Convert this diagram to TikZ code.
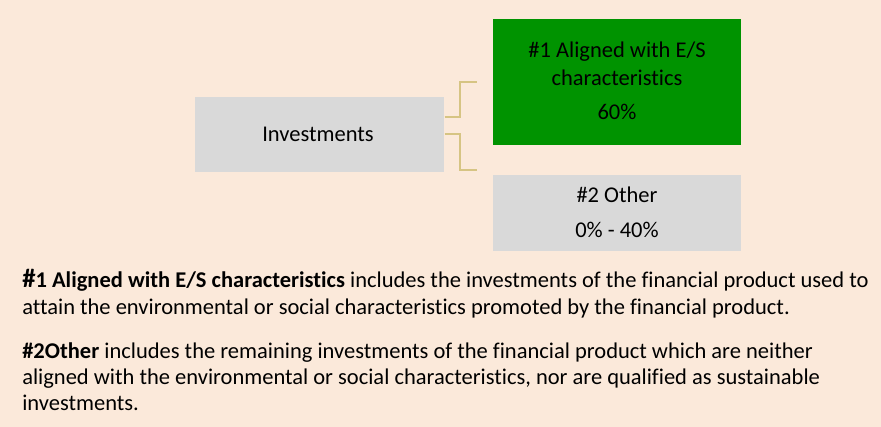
\documentclass[tikz,border=0pt]{standalone}
\usepackage{fontspec}
\setmainfont{Carlito}[Ligatures=NoCommon]
\definecolor{bgpeach}{HTML}{FBE9DA}
\definecolor{boxgray}{HTML}{D9D9D9}
\definecolor{boxgreen}{HTML}{009300}
\definecolor{linkcol}{HTML}{D6C483}
\begin{document}
\begin{tikzpicture}[x=0.025cm,y=-0.025cm,
  box/.style={draw=none,inner sep=0pt,anchor=north west},
  boxtext/.style={font=\fontsize{16}{19}\selectfont,text=black,inner sep=0pt},
  link/.style={draw=linkcol,line width=1.4pt},
  para/.style={font=\fontsize{16}{19.2}\selectfont,text=black,inner sep=0pt,anchor=base west}]
\fill[bgpeach] (0,0) rectangle (881,427);
\useasboundingbox (0,0) rectangle (881,427);
% boxes
\node[box,fill=boxgray,minimum width=249*0.025cm,minimum height=75*0.025cm] (inv) at (195,97) {};
\node[box,fill=boxgreen,minimum width=248*0.025cm,minimum height=126*0.025cm] (al) at (493,19) {};
\node[box,fill=boxgray,minimum width=248*0.025cm,minimum height=76*0.025cm] (oth) at (493,175) {};
% texts
\node[boxtext] (tinv) at (318,134) {Investments};
\node[boxtext] (tal1) at (617,52) {\#1 Aligned with E/S};
\node[boxtext] (tal2) at (617,78) {characteristics};
\node[boxtext] (tal3) at (617,112) {60\%};
\node[boxtext] (tot1) at (617,195) {\#2 Other};
\node[boxtext] (tot2) at (617,230) {0\% - 40\%};
% connectors
\coordinate (u0) at (inv.east |- 0,117);
\coordinate (u1) at (460,117);
\coordinate (u2) at (460,82);
\coordinate (u3) at (477,82);
\coordinate (d0) at (inv.east |- 0,134);
\coordinate (d1) at (460,134);
\coordinate (d2) at (460,170);
\coordinate (d3) at (477,170);
\draw[link] (u0) -- (u1) -- (u2) -- (u3);
\draw[link] (d0) -- (d1) -- (d2) -- (d3);
% paragraphs
\node[para] (p1a) at (22,287) {{\bfseries{\fontsize{19}{19.2}\selectfont\#}1 Aligned with E/S characteristics} includes the investments of the financial product used to};
\node[para] (p1b) at (22,314) {attain the environmental or social characteristics promoted by the financial product.};
\node[para] (p2a) at (22,358) {{\bfseries \#2Other} includes the remaining investments of the financial product which are neither};
\node[para] (p2b) at (22,384) {aligned with the environmental or social characteristics, nor are qualified as sustainable};
\node[para] (p2c) at (22,410) {investments.};
\end{tikzpicture}
\end{document}
